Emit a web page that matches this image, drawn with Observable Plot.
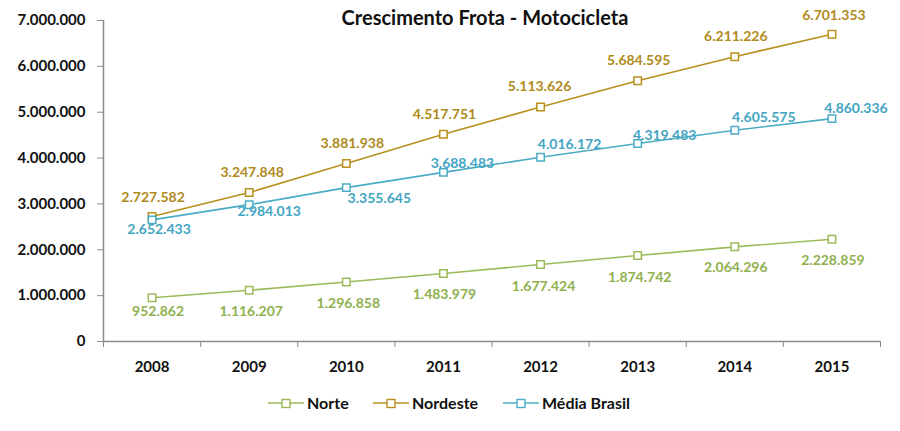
<!DOCTYPE html>
<html><head><meta charset="utf-8">
<script src="https://cdn.jsdelivr.net/npm/d3@7"></script>
<script src="https://cdn.jsdelivr.net/npm/@observablehq/plot@0.6"></script>
<style>
body{margin:0;background:#fff;font-family:Lato,"Open Sans",sans-serif}
#wrap{position:relative;width:900px;height:431px;overflow:hidden}
#title{position:absolute;left:0;width:970px;top:5px;text-align:center;font-weight:bold;font-size:20px;color:#111}
#legend{position:absolute;top:393px;left:0;width:900px;height:22px}
.li{position:absolute;top:0;display:flex;align-items:center;font-weight:bold;font-size:16px;color:#111}
.li svg{margin-right:3px}
</style></head><body>
<div id="wrap"><div id="title">Crescimento Frota - Motocicleta</div><div id="legend"></div></div>
<script>
const years = [2008, 2009, 2010, 2011, 2012, 2013, 2014, 2015];
const norte = [952862, 1116207, 1296858, 1483979, 1677424, 1874742, 2064296, 2228859];
const nordeste = [2727582, 3247848, 3881938, 4517751, 5113626, 5684595, 6211226, 6701353];
const mediaBrasil = [2652433, 2984013, 3355645, 3688483, 4016172, 4319483, 4605575, 4860336];
const yTicks = [0, 1000000, 2000000, 3000000, 4000000, 5000000, 6000000, 7000000];
const seriesNames = ["Norte", "Nordeste", "Média Brasil"];

const colors = {Norte: "#9bbb59", Nordeste: "#b8901e", "Média Brasil": "#4bacc6"};
const labelColors = {Norte: "#8fb04e", Nordeste: "#b08a1a", "Média Brasil": "#43a5c2"};
// label offsets (dx, dy) relative to each point
const labelOffsets = {
  Norte: [[6, 14], [2, 21], [2, 21], [1, 21], [3, 22], [2, 22], [1, 21], [1, 21]],
  Nordeste: [[1, -19], [3, -20], [6, -20], [1, -20], [-1, -20], [1, -20], [1, -20], [2, -19]],
  "Média Brasil": [[7, 10], [20, 7], [33, 11], [19, -9], [29, -13], [27, -8], [29, -13], [24, -10]]
};

const fmt = d => d3.format(",")(d).replace(/,/g, ".");
const boundaries = d3.range(years.length + 1).map(i => years[0] - 0.5 + i);

const seriesData = {Norte: norte, Nordeste: nordeste, "Média Brasil": mediaBrasil};
const rows = s => years.map((y, i) => ({year: y, value: seriesData[s][i], i}));

const marks = [
  Plot.ruleY([0], {stroke: "#8c8c8c", strokeWidth: 1.5}),
  Plot.ruleX([boundaries[0]], {stroke: "#8c8c8c", strokeWidth: 1.5}),
  Plot.axisY({ticks: yTicks, tickFormat: fmt, tickSize: 6, tickPadding: 12, stroke: "#8c8c8c", fill: "#111", fontSize: 15, fontWeight: "bold", label: null}),
  Plot.axisX({ticks: boundaries, tickFormat: () => "", tickSize: 6, stroke: "#8c8c8c", label: null}),
  Plot.axisX({ticks: years, tickFormat: d => String(d), tickSize: 0, tickPadding: 20, fill: "#111", fontSize: 15, fontWeight: "bold", label: null})
];
for (const s of seriesNames) {
  marks.push(Plot.line(rows(s), {x: "year", y: "value", stroke: colors[s], strokeWidth: 1.6}));
  marks.push(Plot.dot(rows(s), {x: "year", y: "value", symbol: "square", r: 4.2, stroke: colors[s], fill: "white", strokeWidth: 1.5}));
}
for (const s of seriesNames) {
  rows(s).forEach((d, i) => {
    marks.push(Plot.text([d], {x: "year", y: "value", text: d => fmt(d.value), dx: labelOffsets[s][i][0], dy: labelOffsets[s][i][1], fill: labelColors[s], fontSize: 14, fontWeight: "bold"}));
  });
}

const chart = Plot.plot({
  width: 900, height: 431,
  marginLeft: 103, marginRight: 20, marginTop: 20, marginBottom: 90,
  x: {type: "linear", domain: [boundaries[0], boundaries[boundaries.length - 1]]},
  y: {domain: [0, 7000000]},
  style: {fontFamily: "Lato, 'Open Sans', sans-serif", background: "white"},
  marks
});
document.getElementById("wrap").prepend(chart);

const legendX = {Norte: 268, Nordeste: 373, "Média Brasil": 503};
const legend = document.getElementById("legend");
for (const s of seriesNames) {
  const item = document.createElement("div");
  item.className = "li";
  item.style.left = legendX[s] + "px";
  item.innerHTML = `<svg width="36" height="14"><line x1="0" y1="7" x2="36" y2="7" stroke="${colors[s]}" stroke-width="1.6"/><rect x="14" y="3.5" width="8" height="8" fill="white" stroke="${colors[s]}" stroke-width="1.4"/></svg><span>${s}</span>`;
  legend.appendChild(item);
}
</script>
</body></html>
